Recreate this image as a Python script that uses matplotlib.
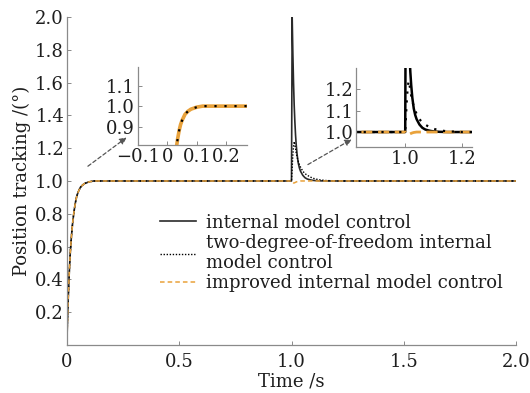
import matplotlib
matplotlib.use("Agg")
import matplotlib.pyplot as plt

plt.rcParams['font.family'] = ['DejaVu Serif']
plt.rcParams['mathtext.fontset'] = 'dejavuserif'

# time axis (s) and read-off responses (deg)
t = [0, 0.005, 0.01, 0.015, 0.02, 0.025, 0.03, 0.035, 0.04, 0.045, 0.05,
     0.06, 0.07, 0.08, 0.09, 0.1, 0.12, 0.5, 0.999, 1.0,
     1.003, 1.006, 1.009, 1.012, 1.015, 1.018, 1.021, 1.025,
     1.03, 1.035, 1.04, 1.05, 1.06, 1.07, 1.08, 1.09, 1.1,
     1.12, 1.15, 1.2, 1.5, 2.0]

rise = [0, 0.23, 0.41, 0.55, 0.65, 0.73, 0.79, 0.84, 0.88, 0.91, 0.93,
        0.96, 0.975, 0.985, 0.99, 0.995, 1.0, 1.0, 1.0, 1.0]

y_imc = rise + [2.0, 1.78, 1.6, 1.46, 1.36, 1.28, 1.22, 1.16,
                1.11, 1.08, 1.06, 1.035, 1.02, 1.012, 1.008, 1.005, 1.003,
                1.001, 1.0, 1.0, 1.0, 1.0]
y_2dof = rise + [1.08, 1.16, 1.21, 1.24, 1.22, 1.2, 1.17, 1.145,
                 1.12, 1.1, 1.085, 1.06, 1.045, 1.035, 1.027, 1.02, 1.015,
                 1.008, 1.003, 1.0, 1.0, 1.0]
y_imp = rise + [0.995, 0.99, 0.988, 0.988, 0.99, 0.992, 0.994, 0.996,
                0.998, 0.999, 1.0, 1.0, 1.0, 1.0, 1.0, 1.0, 1.0,
                1.0, 1.0, 1.0, 1.0, 1.0]

labels = ['internal model control',
          'two-degree-of-freedom internal\nmodel control',
          'improved internal model control']

orange = '#E9A23B'
dark = '#2a2a2a'
spine_c = '#8a8a8a'
txt_c = '#1e1e1e'

fig = plt.figure(figsize=(5.3, 3.93), dpi=100)
ax = fig.add_axes([0.126, 0.122, 0.848, 0.835])

ax.plot(t, y_imc, color=dark, lw=1.2, label=labels[0])
ax.plot(t, y_2dof, color='black', lw=1.0, ls=(0, (1, 1.2)), label=labels[1])
ax.plot(t, y_imp, color=orange, lw=1.1, ls=(0, (3, 2)), label=labels[2])

ax.set_xlim(0, 2)
ax.set_ylim(0, 2)
ax.set_xticks([0, 0.5, 1.0, 1.5, 2.0])
ax.set_xticklabels(['0', '0.5', '1.0', '1.5', '2.0'])
yt = [0.2, 0.4, 0.6, 0.8, 1.0, 1.2, 1.4, 1.6, 1.8, 2.0]
ax.set_yticks(yt)
ax.set_yticklabels(['%.1f' % v for v in yt])
ax.set_xlabel('Time /s', fontsize=13, labelpad=1, color=txt_c)
ax.set_ylabel('Position tracking /(°)', fontsize=13, labelpad=3, color=txt_c)


def style(a, size):
    for s in ['top', 'right']:
        a.spines[s].set_visible(False)
    for s in ['left', 'bottom']:
        a.spines[s].set_color(spine_c)
        a.spines[s].set_linewidth(0.9)
    a.tick_params(direction='in', length=3, width=0.7, color=spine_c,
                  labelsize=size, labelcolor=txt_c, pad=2)
    a.patch.set_alpha(0)


style(ax, 13)
ax.tick_params(axis='x', pad=6)

leg = ax.legend(loc='upper left', bbox_to_anchor=(0.207, 0.40), frameon=False,
                fontsize=13, borderpad=0, handlelength=2.0, handletextpad=0.55,
                labelspacing=0.1, borderaxespad=0)
for txt in leg.get_texts():
    txt.set_color(txt_c)

# inset 1: step rise
ax1 = fig.add_axes([0.260, 0.631, 0.206, 0.198])
ax1.plot(t, y_imc, color=dark, lw=1.5)
ax1.plot(t, y_imp, color=orange, lw=2.6)
ax1.plot(t, y_2dof, color='black', lw=1.6, ls=(0, (1, 3.5)))
ax1.set_xlim(-0.1, 0.27)
ax1.set_ylim(0.81, 1.19)
ax1.set_xticks([-0.1, 0, 0.1, 0.2])
ax1.set_xticklabels(['\u22120.1', '0', '0.1', '0.2'])
ax1.set_yticks([0.9, 1.0, 1.1])
ax1.set_yticklabels(['0.9', '1.0', '1.1'])
style(ax1, 13)

# inset 2: disturbance at t = 1 s
ax2 = fig.add_axes([0.672, 0.626, 0.219, 0.201])
ax2.plot(t, y_imc, color='black', lw=1.8)
ax2.plot(t, y_imp, color=orange, lw=2.0, ls=(0, (4, 2)))
ax2.plot(t, y_2dof, color='black', lw=1.6, ls=(0, (1, 3)))
ax2.set_xlim(0.828, 1.235)
ax2.set_ylim(0.93, 1.30)
ax2.set_xticks([1.0, 1.2])
ax2.set_xticklabels(['1.0', '1.2'])
ax2.set_yticks([1.0, 1.1, 1.2])
ax2.set_yticklabels(['1.0', '1.1', '1.2'])
style(ax2, 13)

arrow = dict(arrowstyle='-|>', ls=(0, (3, 2)), color='#555555', lw=0.9,
             mutation_scale=10, shrinkA=0, shrinkB=0)
ax.annotate('', xy=(0.266, 1.265), xytext=(0.094, 1.09), arrowprops=arrow)
ax.annotate('', xy=(1.268, 1.254), xytext=(1.073, 1.10), arrowprops=arrow)

fig.savefig('out.png', dpi=100)
